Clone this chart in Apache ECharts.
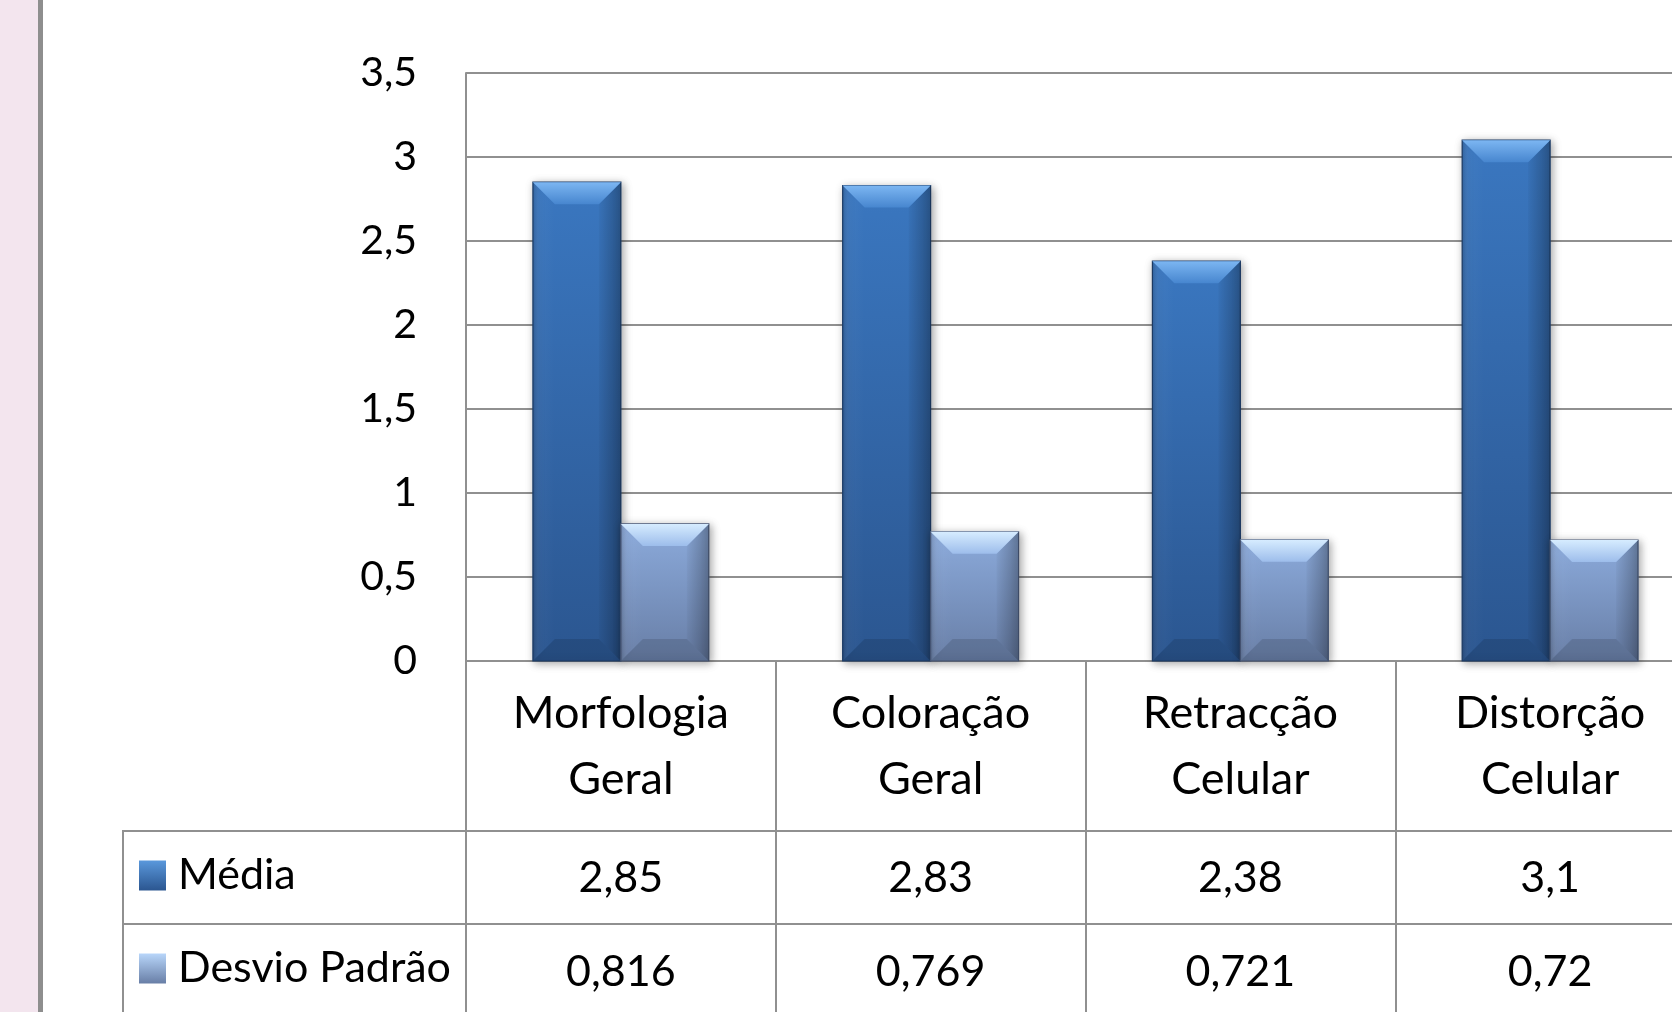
<!DOCTYPE html>
<html>
<head>
<meta charset="utf-8">
<script src="https://cdn.jsdelivr.net/npm/echarts@6/dist/echarts.min.js"></script>
<style>
  html, body { margin: 0; padding: 0; background: #ffffff; }
  #chart { width: 1672px; height: 1012px; }
</style>
</head>
<body>
<div id="chart"></div>
<script>
// Categories and series values
const categories = ['Morfologia\nGeral', 'Coloração\nGeral', 'Retracção\nCelular', 'Distorção\nCelular'];
const media = [2.85, 2.83, 2.38, 3.1];
const desvio = [0.816, 0.769, 0.721, 0.72];
const seriesNames = ['Média', 'Desvio Padrão'];

const FONT = 'Lato';
const LINE = '#909090';
const BAR_RATIO = 0.284;   // bar width as a share of the category band
const BEVEL = 22;          // bevel depth in px

const fmt = v => String(v).replace('.', ',');

// Bevelled bar, drawn through the axis scales
function bevelBar(side, colors) {
  return function (params, api) {
    const idx = api.value(0);
    const v = api.value(1);
    const base = api.coord([idx, 0]);
    const top = api.coord([idx, v]);
    const band = api.size([1, 0])[0];
    const w = band * BAR_RATIO;
    const x0 = side < 0 ? base[0] - w : base[0];
    const x1 = x0 + w;
    const y0 = top[1], y1 = base[1];
    const b = Math.min(BEVEL, (y1 - y0) / 2, w / 2);
    const G = echarts.graphic.LinearGradient;
    return {
      type: 'group',
      children: [
        {
          type: 'rect',
          shape: { x: x0, y: y0, width: w, height: y1 - y0 },
          style: {
            fill: new G(0, 0, 0, 1, [
              { offset: 0, color: colors.top },
              { offset: 1, color: colors.bottom }
            ]),
            stroke: colors.edge, lineWidth: 1.2,
            shadowBlur: 8, shadowColor: 'rgba(0,0,0,0.35)', shadowOffsetX: 2, shadowOffsetY: 2
          }
        },
        {   // left face
          type: 'polygon',
          shape: { points: [[x0, y0], [x0 + b, y0 + b], [x0 + b, y1 - b], [x0, y1]] },
          style: { fill: new G(0, 0, 1, 0, [
            { offset: 0, color: 'rgba(0,0,0,0.14)' },
            { offset: 0.3, color: 'rgba(255,255,255,0.03)' },
            { offset: 1, color: 'rgba(255,255,255,0.0)' }
          ]) }
        },
        {   // right face
          type: 'polygon',
          shape: { points: [[x1, y0], [x1 - b, y0 + b], [x1 - b, y1 - b], [x1, y1]] },
          style: { fill: new G(1, 0, 0, 0, [
            { offset: 0, color: 'rgba(0,0,0,0.28)' },
            { offset: 1, color: 'rgba(0,0,0,0.03)' }
          ]) }
        },
        {   // bottom face
          type: 'polygon',
          shape: { points: [[x0, y1], [x0 + b, y1 - b], [x1 - b, y1 - b], [x1, y1]] },
          style: { fill: 'rgba(0,0,0,0.12)' }
        },
        {   // top face
          type: 'polygon',
          shape: { points: [[x0, y0], [x1, y0], [x1 - b, y0 + b], [x0 + b, y0 + b]] },
          style: { fill: new G(0, 0, 0, 1, [
            { offset: 0, color: colors.bevelTop },
            { offset: 1, color: colors.bevelBottom }
          ]) }
        }
      ]
    };
  };
}

const mediaColors = {
  top: '#3a77c0', bottom: '#2b5690', edge: '#1f3f6b',
  bevelTop: '#7cb6f2', bevelBottom: '#4786cf'
};
const desvioColors = {
  top: '#8cabdc', bottom: '#687ea6', edge: '#4a5a7a',
  bevelTop: '#d6ecff', bevelBottom: '#9dbdeb'
};

const chart = echarts.init(document.getElementById('chart'), null, { renderer: 'canvas' });

const labelBase = { fontFamily: FONT, color: '#000' };

const tableAxis = (values, margin) => ({
  type: 'category',
  gridIndex: 0,
  position: 'bottom',
  data: categories,
  axisLine: { show: false, onZero: false },
  axisTick: { show: false },
  splitLine: { show: false },
  axisLabel: Object.assign({}, labelBase, {
    fontSize: 43, margin: margin, verticalAlign: 'middle', interval: 0,
    formatter: (val, i) => fmt(values[i])
  })
});

const legendBase = {
  orient: 'vertical', left: 134, icon: 'rect', itemWidth: 27, itemHeight: 30,
  selectedMode: false,
  textStyle: Object.assign({}, labelBase, { fontSize: 43, padding: [0, 0, 0, 7] })
};

chart.setOption({
  backgroundColor: '#ffffff',
  animation: false,
  grid: { left: 466, top: 73, width: 1239, height: 588, outerBoundsMode: 'none', containLabel: false },
  legend: [
    Object.assign({}, legendBase, { data: [seriesNames[0]], top: 849 }),
    Object.assign({}, legendBase, { data: [seriesNames[1]], top: 942 })
  ],
  xAxis: [
    {
      type: 'category',
      data: categories,
      axisLine: { show: true, lineStyle: { color: LINE, width: 2 } },
      axisTick: { show: true, length: 360, lineStyle: { color: LINE, width: 2 } },
      axisLabel: Object.assign({}, labelBase, { fontSize: 45, lineHeight: 66, margin: 19, interval: 0 })
    },
    tableAxis(media, 217),
    tableAxis(desvio, 311)
  ],
  yAxis: {
    type: 'value',
    min: 0, max: 3.5, interval: 0.5,
    axisLine: { show: true, lineStyle: { color: LINE, width: 2 } },
    axisTick: { show: false },
    splitLine: { show: true, lineStyle: { color: LINE, width: 2 } },
    axisLabel: Object.assign({}, labelBase, { fontSize: 41, margin: 49, formatter: fmt })
  },
  graphic: [
    { type: 'rect', shape: { x: 0, y: 0, width: 38, height: 1012 }, style: { fill: '#f3e5ee' }, silent: true },
    { type: 'rect', shape: { x: 38, y: 0, width: 5, height: 1012 }, style: { fill: '#8e8e8e' }, silent: true },
    { type: 'line', shape: { x1: 123, y1: 831, x2: 1672, y2: 831 }, style: { stroke: LINE, lineWidth: 2 }, silent: true },
    { type: 'line', shape: { x1: 123, y1: 924, x2: 1672, y2: 924 }, style: { stroke: LINE, lineWidth: 2 }, silent: true },
    { type: 'line', shape: { x1: 123, y1: 830, x2: 123, y2: 1012 }, style: { stroke: LINE, lineWidth: 2 }, silent: true }
  ],
  series: [
    {
      name: seriesNames[0],
      type: 'custom',
      renderItem: bevelBar(-1, mediaColors),
      itemStyle: { color: new echarts.graphic.LinearGradient(0, 0, 0, 1, [
        { offset: 0, color: '#5a98dc' }, { offset: 1, color: '#2b5690' }]) },
      encode: { x: 0, y: 1 },
      data: media.map((v, i) => [i, v]),
      z: 3
    },
    {
      name: seriesNames[1],
      type: 'custom',
      renderItem: bevelBar(1, desvioColors),
      itemStyle: { color: new echarts.graphic.LinearGradient(0, 0, 0, 1, [
        { offset: 0, color: '#b8d6fa' }, { offset: 1, color: '#687ea6' }]) },
      encode: { x: 0, y: 1 },
      data: desvio.map((v, i) => [i, v]),
      z: 3
    }
  ]
});
</script>
</body>
</html>
